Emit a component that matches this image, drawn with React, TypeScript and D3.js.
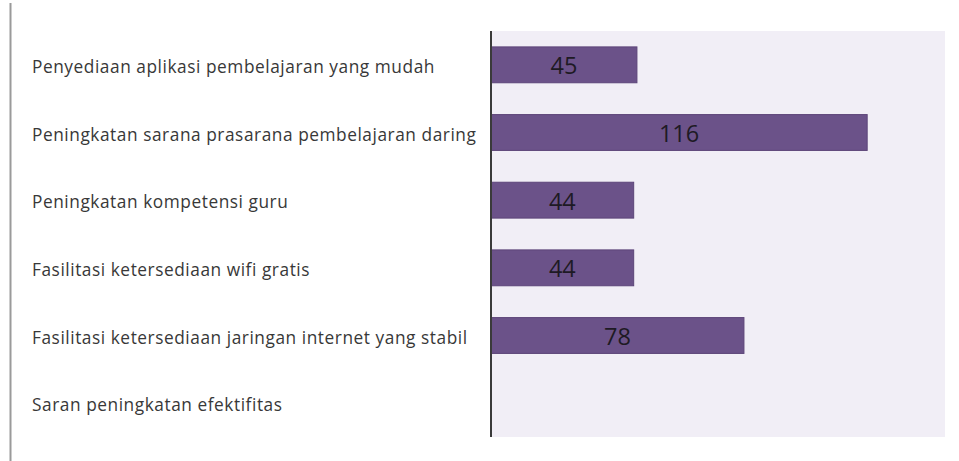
import React from "react";
import * as d3 from "d3";

const categories = [
  "Penyediaan aplikasi pembelajaran yang mudah",
  "Peningkatan sarana prasarana pembelajaran daring",
  "Peningkatan kompetensi guru",
  "Fasilitasi ketersediaan wifi gratis",
  "Fasilitasi ketersediaan jaringan internet yang stabil",
  "Saran peningkatan efektifitas",
];
const values: (number | null)[] = [45, 116, 44, 44, 78, null];

const W = 959;
const H = 461;

export default function App() {
  const left = 491;
  const right = 945;
  const top = 31;
  const bottom = 437;

  const x = d3.scaleLinear().domain([0, 140]).range([left, right]);
  const y = d3
    .scaleBand<string>()
    .domain(categories)
    .range([top, bottom])
    .paddingInner(0.47)
    .paddingOuter(0.235);

  return (
    <svg width={W} height={H} style={{ position: "absolute", left: 0, top: 0 }}>
      <rect width={W} height={H} fill="#fff" />
      <line x1={10.5} x2={10.5} y1={3} y2={H} stroke="#9a9a9a" strokeWidth={2} />
      <rect x={left} y={top} width={right - left} height={bottom - top} fill="#f1eef6" />
      {categories.map((c, i) => {
        const v = values[i];
        const yc = (y(c) ?? 0) + y.bandwidth() / 2;
        return (
          <g key={c}>
            <text
              x={32}
              y={yc + 2}
              dy="0.35em"
              fontFamily="'Open Sans', 'Noto Sans', sans-serif"
              fontSize={17.3}
              letterSpacing={0.55}
              fill="#383838"
            >
              {c}
            </text>
            {v != null && (
              <>
                <rect
                  x={x(0)}
                  y={y(c)}
                  width={x(v) - x(0)}
                  height={y.bandwidth()}
                  fill="#6b5289"
                  stroke="#5d4579"
                  strokeWidth={1}
                />
                <text
                  x={(x(0) + x(v)) / 2}
                  y={yc + 1}
                  dy="0.36em"
                  textAnchor="middle"
                  fontFamily="'Open Sans', 'Noto Sans', sans-serif"
                  fontSize={23.5}
                  fill="#1e1a24"
                >
                  {v}
                </text>
              </>
            )}
          </g>
        );
      })}
      <line x1={left} x2={left} y1={top} y2={bottom} stroke="#3a3a3a" strokeWidth={2} />
    </svg>
  );
}
